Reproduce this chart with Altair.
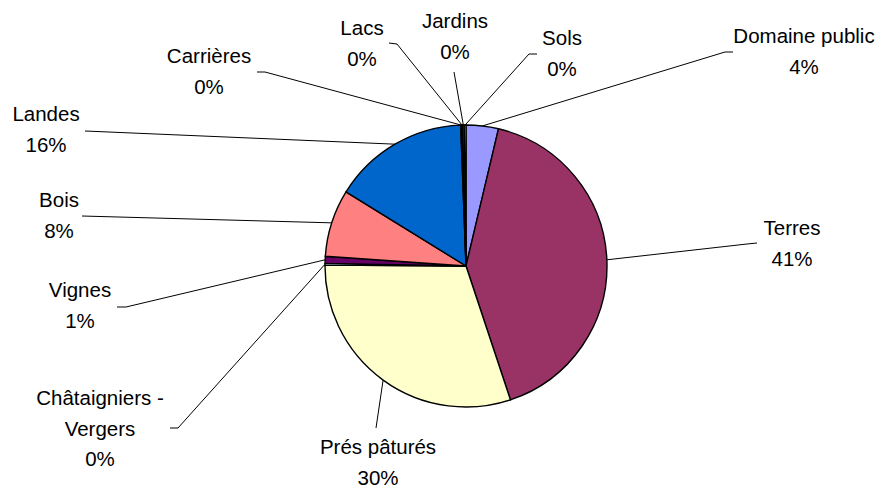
import altair as alt
import numpy as np
import pandas as pd

# ---- data ----
names = ["Domaine public", "Terres", "Prés pâturés", "Châtaigniers - Vergers", "Vignes",
         "Bois", "Landes", "Carrières", "Lacs", "Jardins", "Sols"]
values = [3.7, 41.2, 30.2, 0.2, 0.8, 7.7, 15.6, 0.1, 0.1, 0.2, 0.2]
colors = ["#9999FF", "#993366", "#FFFFCC", "#CCFFFF", "#660066", "#FF8080",
          "#0066CC", "#CCCCFF", "#000080", "#FF00FF", "#FFFF00"]
label_names = ["Domaine public", "Terres", "Prés pâturés", "Châtaigniers -\nVergers", "Vignes",
               "Bois", "Landes", "Carrières", "Lacs", "Jardins", "Sols"]

# ---- layout (page pixels) ----
W, H = 868, 480
CX, CY, R = 466, 266, 141
label_xy = [(804, 43), (792, 235), (378, 454), (100, 405), (80, 297),
            (59, 207), (46, 121), (209, 63), (362, 35), (455, 28), (562, 45)]
leader_start = [
    [(733, 52), (725, 52)],
    [(757, 243), (747, 244)],
    [(376, 428)],
    [(170, 428), (178, 428)],
    [(117, 307), (126, 307)],
    [(82, 216)],
    [(85, 131)],
    [(257, 72), (265, 72)],
    [(389, 43), (397, 44)],
    [(454, 72)],
    [(537, 54), (529, 54)],
]

vals = np.array(values, dtype=float)
total = vals.sum()
pct = [f"{int(round(v / total * 100))}%" for v in vals]
cum = np.cumsum(vals)
mid = (cum - vals / 2) / total * 2 * np.pi
ax = CX + R * np.sin(mid)
ay = CY - R * np.cos(mid)

pie_df = pd.DataFrame({"name": names, "value": values, "idx": range(len(names))})

rows = []
for i, n in enumerate(names):
    pts = leader_start[i] + [(ax[i], ay[i])]
    for k, (px, py) in enumerate(pts):
        rows.append({"name": n, "k": k, "x": px, "y": py})
line_df = pd.DataFrame(rows)

text_df = pd.DataFrame({
    "name": names,
    "label": [f"{l}\n{p}" for l, p in zip(label_names, pct)],
    "x": [p[0] for p in label_xy],
    "y": [p[1] for p in label_xy],
})

xs = alt.Scale(domain=[8, 8 + W], range=[0, W], nice=False, zero=False)
ys = alt.Scale(domain=[8, 8 + H], range=[0, H], nice=False, zero=False)

pie = alt.Chart(pie_df).mark_arc(outerRadius=R, stroke="black", strokeWidth=1.4).encode(
    theta=alt.Theta("value:Q", stack=True),
    color=alt.Color("name:N", scale=alt.Scale(domain=names, range=colors), legend=None),
    order=alt.Order("idx:Q"),
    x=alt.value(CX - 8),
    y=alt.value(CY - 8),
)

lines = alt.Chart(line_df).mark_line(color="black", strokeWidth=1).encode(
    x=alt.X("x:Q", scale=xs, axis=None),
    y=alt.Y("y:Q", scale=ys, axis=None),
    detail="name:N",
    order="k:Q",
)

texts = alt.Chart(text_df).mark_text(
    align="center", baseline="alphabetic", fontSize=20.5, font="Liberation Sans",
    lineBreak="\n", lineHeight=30.5, color="black"
).encode(
    x=alt.X("x:Q", scale=xs, axis=None),
    y=alt.Y("y:Q", scale=ys, axis=None),
    text="label:N",
)

chart = alt.layer(lines, pie, texts).properties(
    width=W, height=H, padding=0, autosize=alt.AutoSizeParams(type="none"),
    background="white"
).configure_view(stroke=None)

chart.save("out.html", embed_options={"renderer": "svg", "actions": False})
